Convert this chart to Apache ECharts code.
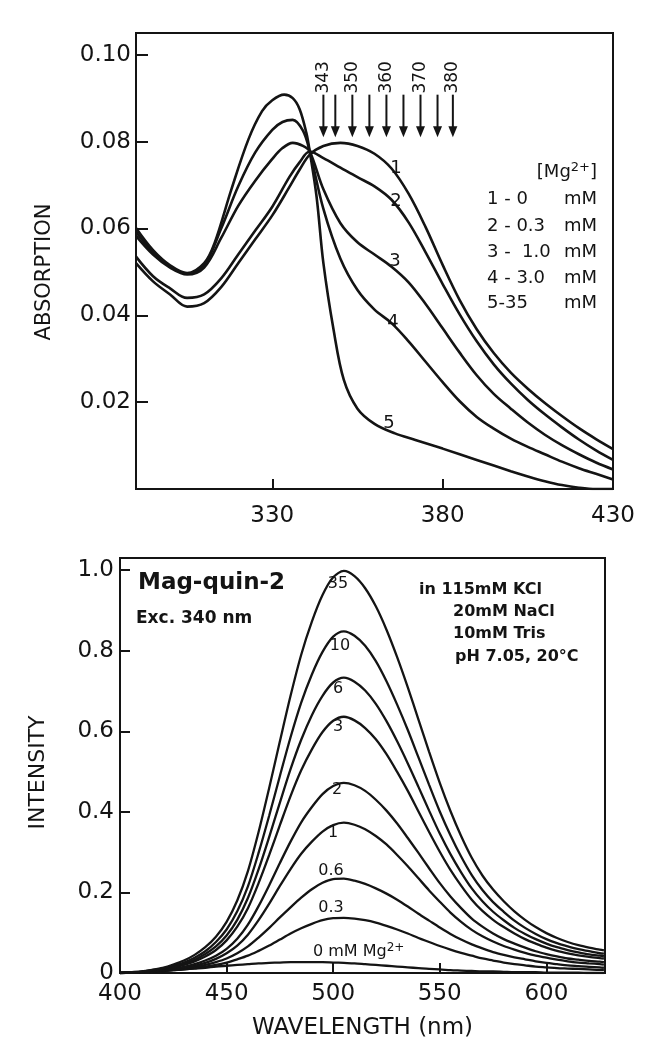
<!DOCTYPE html>
<html>
<head>
<meta charset="utf-8">
<script src="https://cdn.jsdelivr.net/npm/echarts@6/dist/echarts.min.js"></script>
<style>html,body{margin:0;padding:0;background:#fff}#c{width:652px;height:1050px}</style>
</head>
<body>
<div id="c"></div>
<script>
// ---------- Top panel: absorption spectra [wavelength nm, absorbance] ----------
const abs0mM = [[290,0.0520],[295,0.0478],[300,0.0448],[305,0.0420],[310,0.0428],[315,0.0465],[320,0.0520],[325,0.0575],[330,0.0630],[335,0.0695],[338,0.0735],[341,0.0770],[345,0.0790],[350,0.0797],[355,0.0790],[360,0.0772],[365,0.0738],[370,0.0680],[375,0.0603],[380,0.0516],[385,0.0435],[390,0.0368],[395,0.0313],[400,0.0268],[405,0.0231],[410,0.0198],[415,0.0168],[420,0.0140],[425,0.0115],[430,0.0092]];
const abs03mM = [[290,0.0535],[295,0.0490],[300,0.0462],[305,0.0440],[310,0.0448],[315,0.0485],[320,0.0540],[325,0.0595],[330,0.0650],[335,0.0718],[338,0.0752],[341,0.0777],[345,0.0762],[350,0.0740],[355,0.0718],[360,0.0697],[365,0.0666],[370,0.0614],[375,0.0545],[380,0.0472],[385,0.0402],[390,0.0340],[395,0.0287],[400,0.0243],[405,0.0205],[410,0.0172],[415,0.0142],[420,0.0114],[425,0.0089],[430,0.0067]];
const abs10mM = [[290,0.0583],[295,0.0540],[300,0.0510],[305,0.0494],[310,0.0510],[315,0.0578],[320,0.0652],[325,0.0710],[330,0.0760],[333,0.0785],[336,0.0797],[339,0.0790],[341,0.0777],[345,0.0690],[350,0.0612],[355,0.0568],[360,0.0540],[365,0.0512],[370,0.0476],[375,0.0426],[380,0.0370],[385,0.0314],[390,0.0262],[395,0.0219],[400,0.0185],[405,0.0153],[410,0.0125],[415,0.0101],[420,0.0080],[425,0.0061],[430,0.0045]];
const abs30mM = [[290,0.0592],[295,0.0545],[300,0.0512],[305,0.0496],[310,0.0515],[315,0.0600],[320,0.0697],[325,0.0775],[330,0.0827],[333,0.0845],[336,0.0850],[339,0.0825],[341,0.0777],[345,0.0645],[350,0.0530],[355,0.0458],[360,0.0413],[365,0.0382],[370,0.0340],[375,0.0293],[380,0.0246],[385,0.0202],[390,0.0166],[395,0.0139],[400,0.0116],[405,0.0097],[410,0.0080],[415,0.0063],[420,0.0048],[425,0.0035],[430,0.0022]];
const abs35mM = [[290,0.0601],[295,0.0550],[300,0.0515],[305,0.0497],[310,0.0520],[313,0.0565],[318,0.0690],[323,0.0805],[327,0.0870],[330,0.0895],[333.5,0.0908],[336,0.0900],[338,0.0875],[340,0.0820],[341,0.0777],[343,0.0673],[345,0.0520],[348,0.0366],[351,0.0251],[355,0.0185],[360,0.0150],[366,0.0128],[372,0.0113],[380,0.0093],[390,0.0067],[400,0.0041],[405,0.0029],[410,0.0018],[415,0.0009],[420,0.0003],[425,0.0],[430,0.0]];
const absCurveLabels = ['1','2','3','4','5'];
const legendRows = [['1 - 0','mM'],['2 - 0.3','mM'],['3 -  1.0','mM'],['4 - 3.0','mM'],['5-35','mM']];
const arrowWl = [345, 348.5, 353.5, 358.5, 363.5, 368.5, 373.5, 378.5, 383];
const arrowText = ['343','','350','','360','','370','','380'];
const absXTicks = [330, 380, 430];
const absYTicks = [0.02, 0.04, 0.06, 0.08, 0.10];

// ---------- Bottom panel: emission spectra (intensity vs wavelength nm) ----------
const emWl = [400,405,410,415,420,425,430,435,440,445,450,455,460,465,470,475,480,485,490,495,500,505,510,515,520,525,530,535,540,545,550,555,560,565,570,575,580,585,590,595,600,605,610,615,620,625,627];
const em35 = [0,0.002,0.004,0.008,0.013,0.021,0.031,0.045,0.064,0.090,0.127,0.180,0.253,0.350,0.460,0.575,0.688,0.790,0.872,0.938,0.982,0.998,0.985,0.955,0.910,0.852,0.784,0.709,0.629,0.549,0.472,0.402,0.340,0.286,0.242,0.207,0.178,0.153,0.132,0.114,0.099,0.087,0.077,0.069,0.063,0.058,0.056];
const em10 = [0,0.002,0.003,0.007,0.011,0.018,0.026,0.038,0.054,0.077,0.108,0.153,0.215,0.298,0.391,0.489,0.585,0.671,0.741,0.797,0.835,0.848,0.837,0.812,0.774,0.724,0.666,0.603,0.535,0.467,0.401,0.342,0.289,0.243,0.206,0.176,0.152,0.130,0.112,0.097,0.084,0.074,0.066,0.059,0.054,0.049,0.048];
const em6  = [0,0.001,0.003,0.006,0.010,0.015,0.023,0.033,0.047,0.066,0.093,0.132,0.186,0.257,0.338,0.423,0.506,0.579,0.640,0.688,0.721,0.733,0.723,0.701,0.668,0.625,0.575,0.520,0.462,0.403,0.346,0.295,0.250,0.210,0.178,0.152,0.131,0.112,0.097,0.084,0.073,0.064,0.057,0.051,0.046,0.043,0.042];
const em3  = [0,0.001,0.003,0.005,0.008,0.013,0.020,0.029,0.041,0.057,0.081,0.115,0.161,0.223,0.293,0.367,0.439,0.503,0.555,0.598,0.626,0.636,0.627,0.608,0.580,0.543,0.499,0.452,0.401,0.350,0.301,0.256,0.217,0.182,0.154,0.132,0.114,0.098,0.084,0.073,0.063,0.055,0.049,0.044,0.040,0.037,0.036];
const em2  = [0,0.001,0.002,0.004,0.007,0.010,0.015,0.022,0.031,0.043,0.060,0.085,0.120,0.166,0.218,0.273,0.326,0.374,0.412,0.444,0.464,0.472,0.466,0.452,0.430,0.403,0.371,0.335,0.298,0.260,0.223,0.190,0.161,0.135,0.115,0.098,0.084,0.073,0.063,0.054,0.047,0.041,0.036,0.033,0.030,0.028,0.027];
const em1  = [0,0.001,0.002,0.004,0.006,0.009,0.013,0.018,0.025,0.035,0.049,0.068,0.095,0.131,0.172,0.216,0.258,0.296,0.326,0.351,0.367,0.373,0.368,0.357,0.340,0.319,0.293,0.265,0.235,0.205,0.177,0.150,0.127,0.107,0.091,0.078,0.067,0.058,0.050,0.043,0.038,0.033,0.029,0.026,0.024,0.022,0.021];
const em06 = [0,0.001,0.002,0.004,0.006,0.008,0.011,0.015,0.020,0.027,0.036,0.049,0.066,0.088,0.112,0.138,0.163,0.187,0.208,0.224,0.233,0.234,0.229,0.221,0.210,0.197,0.182,0.165,0.147,0.130,0.113,0.097,0.083,0.071,0.061,0.052,0.045,0.039,0.034,0.029,0.025,0.022,0.019,0.017,0.015,0.014,0.013];
const em03 = [0,0.001,0.002,0.003,0.005,0.007,0.009,0.012,0.016,0.020,0.026,0.034,0.043,0.055,0.068,0.083,0.098,0.111,0.122,0.131,0.136,0.137,0.135,0.131,0.125,0.117,0.108,0.098,0.087,0.077,0.067,0.058,0.050,0.043,0.036,0.031,0.026,0.022,0.019,0.016,0.014,0.012,0.011,0.010,0.009,0.008,0.008];
const em0  = [0,0.001,0.002,0.003,0.005,0.007,0.009,0.011,0.013,0.016,0.018,0.020,0.022,0.024,0.025,0.026,0.027,0.027,0.027,0.027,0.026,0.025,0.024,0.022,0.020,0.018,0.016,0.014,0.012,0.010,0.009,0.007,0.006,0.005,0.004,0.004,0.003,0.002,0.002,0.002,0.001,0.001,0.001,0.001,0,0,0];
const emXTicks = [450, 500, 550, 600];
const emXLabels = [400, 450, 500, 550, 600];
const emYTicks = [0.2, 0.4, 0.6, 0.8, 1.0];
const emYLabels = [0, 0.2, 0.4, 0.6, 0.8, 1.0];

const FONT = 'DejaVu Sans';
const INK = '#141414';

const chart = echarts.init(document.getElementById('c'), null, {renderer: 'canvas'});

function absLine(data) {
  return {type:'line', xAxisIndex:0, yAxisIndex:0, data:data, smooth:0.35, showSymbol:false,
    lineStyle:{color:INK, width:2.6}, silent:true};
}
function emLine(vals) {
  return {type:'line', xAxisIndex:1, yAxisIndex:1, data: emWl.map((w,i)=>[w, vals[i]]), smooth:0.3,
    showSymbol:false, lineStyle:{color:INK, width:2.3}, silent:true};
}

function txt(x, y, text, size, opts) {
  opts = opts || {};
  return {type:'text', x:x, y:y, silent:true, style:Object.assign({text:text, fill:INK,
    font:(opts.bold?'bold ':'') + size + 'px "' + FONT + '"', align:opts.align||'left', verticalAlign:'middle'}, opts.style||{})};
}

const graphics = [];
// top curve labels
[[396,168],[396,201],[395,261],[393,322],[389,423]].forEach((p,i)=>graphics.push(txt(p[0],p[1],absCurveLabels[i],18,{align:'center'})));
// top legend
graphics.push({type:'text', x:597, y:172, silent:true, style:{text:'{a|[Mg}{s|2+}{a|]}', align:'right', verticalAlign:'middle',
  rich:{a:{font:'18px "'+FONT+'"', fill:INK}, s:{font:'13px "'+FONT+'"', fill:INK, verticalAlign:'top', padding:[0,0,8,0]}}}});
[199,226,252,278,303].forEach((y,i)=>{
  graphics.push(txt(487, y, legendRows[i][0], 18));
  graphics.push(txt(597, y, legendRows[i][1], 18, {align:'right'}));
});
// bottom annotations
graphics.push(txt(138, 583, 'Mag-quin-2', 23, {bold:true}));
graphics.push(txt(136, 619, 'Exc. 340 nm', 17, {bold:true}));
graphics.push(txt(419, 590, 'in 115mM KCl', 16, {bold:true}));
graphics.push(txt(453, 612, '20mM NaCl', 16, {bold:true}));
graphics.push(txt(453, 634, '10mM Tris', 16, {bold:true}));
graphics.push(txt(455, 657, 'pH 7.05, 20°C', 16, {bold:true}));
const emLabelPos = [[338,584,'35'],[340,646,'10'],[338,689,'6'],[338,727,'3'],[337,790,'2'],[333,833,'1'],[331,871,'0.6'],[331,908,'0.3']];
emLabelPos.forEach(p=>graphics.push(txt(p[0],p[1],p[2],16,{align:'center'})));
graphics.push({type:'text', x:313, y:952, silent:true, style:{text:'{a|0 mM Mg}{s|2+}', align:'left', verticalAlign:'middle',
  rich:{a:{font:'16px "'+FONT+'"', fill:INK}, s:{font:'12px "'+FONT+'"', fill:INK, verticalAlign:'top', padding:[0,0,8,0]}}}});

const arrowTip = 0.0810, arrowTail = 0.0908, arrowLabelY = 0.0948;

chart.setOption({
  animation:false,
  backgroundColor:'#ffffff',
  grid:[
    {left:136, top:33, right:39, bottom:561, show:true, borderColor:INK, borderWidth:2, backgroundColor:'transparent'},
    {left:120, top:558, right:47, bottom:77, show:true, borderColor:INK, borderWidth:2, backgroundColor:'transparent'}
  ],
  xAxis:[
    {gridIndex:0, type:'value', min:290, max:430,
     axisLine:{lineStyle:{color:INK, width:2}},
     axisTick:{inside:true, length:10, customValues:[330,380], lineStyle:{color:INK, width:2}},
     axisLabel:{customValues:absXTicks, fontSize:23, fontFamily:FONT, color:INK, margin:16},
     splitLine:{show:false}},
    {gridIndex:1, type:'value', min:400, max:627.5,
     name:'WAVELENGTH (nm)', nameLocation:'middle', nameGap:44,
     nameTextStyle:{fontSize:23, fontFamily:FONT, color:INK},
     axisLine:{lineStyle:{color:INK, width:2}},
     axisTick:{inside:true, length:10, customValues:emXTicks, lineStyle:{color:INK, width:2}},
     axisLabel:{customValues:emXLabels, fontSize:23, fontFamily:FONT, color:INK, margin:10},
     splitLine:{show:false}}
  ],
  yAxis:[
    {gridIndex:0, type:'value', min:0, max:0.105,
     name:'ABSORPTION', nameLocation:'middle', nameGap:81,
     nameTextStyle:{fontSize:21, fontFamily:FONT, color:INK, padding:[0,22,0,0]},
     axisLine:{lineStyle:{color:INK, width:2}},
     axisTick:{inside:true, length:12, customValues:absYTicks, lineStyle:{color:INK, width:2}},
     axisLabel:{customValues:absYTicks, fontSize:23, fontFamily:FONT, color:INK, margin:5,
       formatter:v=>v.toFixed(2)},
     splitLine:{show:false}},
    {gridIndex:1, type:'value', min:0, max:1.03,
     name:'INTENSITY', nameLocation:'middle', nameGap:71,
     nameTextStyle:{fontSize:22, fontFamily:FONT, color:INK, padding:[0,14,0,0]},
     axisLine:{lineStyle:{color:INK, width:2}},
     axisTick:{inside:true, length:10, customValues:emYTicks, lineStyle:{color:INK, width:2}},
     axisLabel:{customValues:emYLabels, fontSize:23, fontFamily:FONT, color:INK, margin:6,
       formatter:v=>v===0?'0':v.toFixed(1)},
     splitLine:{show:false}}
  ],
  series:[
    absLine(abs0mM), absLine(abs03mM), absLine(abs10mM), absLine(abs30mM), absLine(abs35mM),
    {type:'custom', xAxisIndex:0, yAxisIndex:0, clip:false, silent:true,
     data: arrowWl.map((w,i)=>[w, i]),
     renderItem:function(params, api){
       const w = api.value(0), i = api.value(1);
       const tip = api.coord([w, arrowTip]);
       const tail = api.coord([w, arrowTail]);
       const lab = api.coord([w, arrowLabelY]);
       const children = [
         {type:'line', shape:{x1:tip[0], y1:tail[1], x2:tip[0], y2:tip[1]-6}, style:{stroke:INK, lineWidth:2}},
         {type:'polygon', shape:{points:[[tip[0]-4.5, tip[1]-11],[tip[0]+4.5, tip[1]-11],[tip[0], tip[1]]]}, style:{fill:INK}}
       ];
       if (arrowText[i]) {
         children.push({type:'text', x:lab[0], y:lab[1], rotation:Math.PI/2,
           style:{text:arrowText[i], font:'17px "'+FONT+'"', fill:INK, align:'center', verticalAlign:'middle'}});
       }
       return {type:'group', children:children};
     }},
    emLine(em0), emLine(em03), emLine(em06), emLine(em1), emLine(em2), emLine(em3), emLine(em6), emLine(em10), emLine(em35)
  ],
  graphic: graphics
});
</script>
</body>
</html>
